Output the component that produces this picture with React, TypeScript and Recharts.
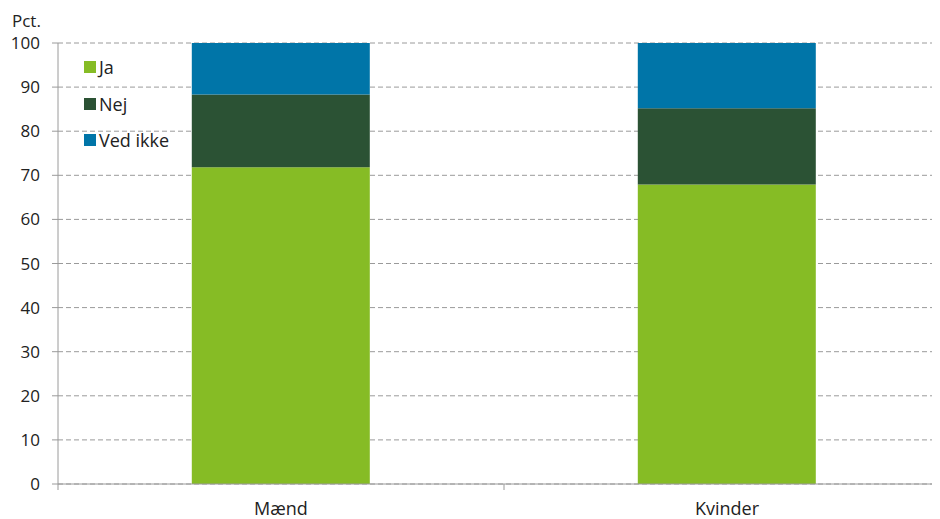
import React from 'react';
import { BarChart, Bar, XAxis, YAxis, CartesianGrid, Legend } from 'recharts';

const categories = ['Mænd', 'Kvinder'];
const jaValues = [71.8, 67.9];
const nejValues = [16.5, 17.3];
const vedIkkeValues = [11.7, 14.8];
const yTicks = [0, 10, 20, 30, 40, 50, 60, 70, 80, 90, 100];

const seriesInfo = [
  { key: 'Ja', color: '#86BC25' },
  { key: 'Nej', color: '#2B5234' },
  { key: 'Ved ikke', color: '#0075A8' },
];

const data = categories.map((name, i) => ({
  name,
  Ja: jaValues[i],
  Nej: nejValues[i],
  'Ved ikke': vedIkkeValues[i],
}));

const FONT = '"Open Sans", "Noto Sans", sans-serif';
const AXIS_COLOR = '#9a9a9a';

interface TickProps {
  x?: number;
  y?: number;
  index?: number;
  payload?: { value: string; offset?: number };
}

// category label plus tick marks at the category borders
const XTick: React.FC<TickProps> = ({ x = 0, y = 0, index = 0, payload }) => {
  const half = payload?.offset ?? 0;
  return (
    <g>
      <line x1={x - half} x2={x - half} y1={y - 8} y2={y - 2} stroke={AXIS_COLOR} />
      {index === categories.length - 1 && (
        <line x1={x + half} x2={x + half} y1={y - 8} y2={y - 2} stroke={AXIS_COLOR} />
      )}
      <text x={x} y={y + 23} textAnchor="middle" fontSize={18} fill="#222" fontFamily={FONT}>
        {payload?.value}
      </text>
    </g>
  );
};

const LegendBox: React.FC = () => (
  <div style={{ fontFamily: FONT, fontSize: 18, color: '#222' }}>
    {seriesInfo.map((s) => (
      <div key={s.key} style={{ display: 'flex', alignItems: 'center', height: 36.5 }}>
        <span style={{ width: 12, height: 12, background: s.color, display: 'inline-block', marginRight: 3 }} />
        <span>{s.key}</span>
      </div>
    ))}
  </div>
);

export default function App() {
  return (
    <div style={{ width: 932, height: 511, overflow: 'hidden', position: 'relative' }}>
      <div style={{ position: 'absolute', left: 4, top: 1, fontFamily: FONT, fontSize: 17, color: '#222' }}>Pct.</div>
      <BarChart
        width={942}
        height={511}
        data={data}
        barCategoryGap="30%"
        margin={{ top: 35, right: 0, left: 0, bottom: 0 }}
      >
        <CartesianGrid vertical={false} stroke={AXIS_COLOR} strokeDasharray="5 3" />
        <XAxis
          dataKey="name"
          height={35}
          axisLine={{ stroke: AXIS_COLOR }}
          tickLine={false}
          tick={<XTick />}
          interval={0}
        />
        <YAxis
          width={50}
          domain={[0, 100]}
          ticks={yTicks}
          interval={0}
          axisLine={{ stroke: AXIS_COLOR }}
          tickLine={{ stroke: AXIS_COLOR }}
          tickSize={6}
          tickMargin={12}
          tick={{ fontSize: 17, fill: '#222', fontFamily: FONT }}
        />
        <Legend
          layout="vertical"
          verticalAlign="middle"
          align="center"
          content={<LegendBox />}
          wrapperStyle={{ left: 76, top: 41, width: 140 }}
        />
        {seriesInfo.map((s) => (
          <Bar key={s.key} dataKey={s.key} stackId="a" fill={s.color} isAnimationActive={false} />
        ))}
      </BarChart>
    </div>
  );
}
